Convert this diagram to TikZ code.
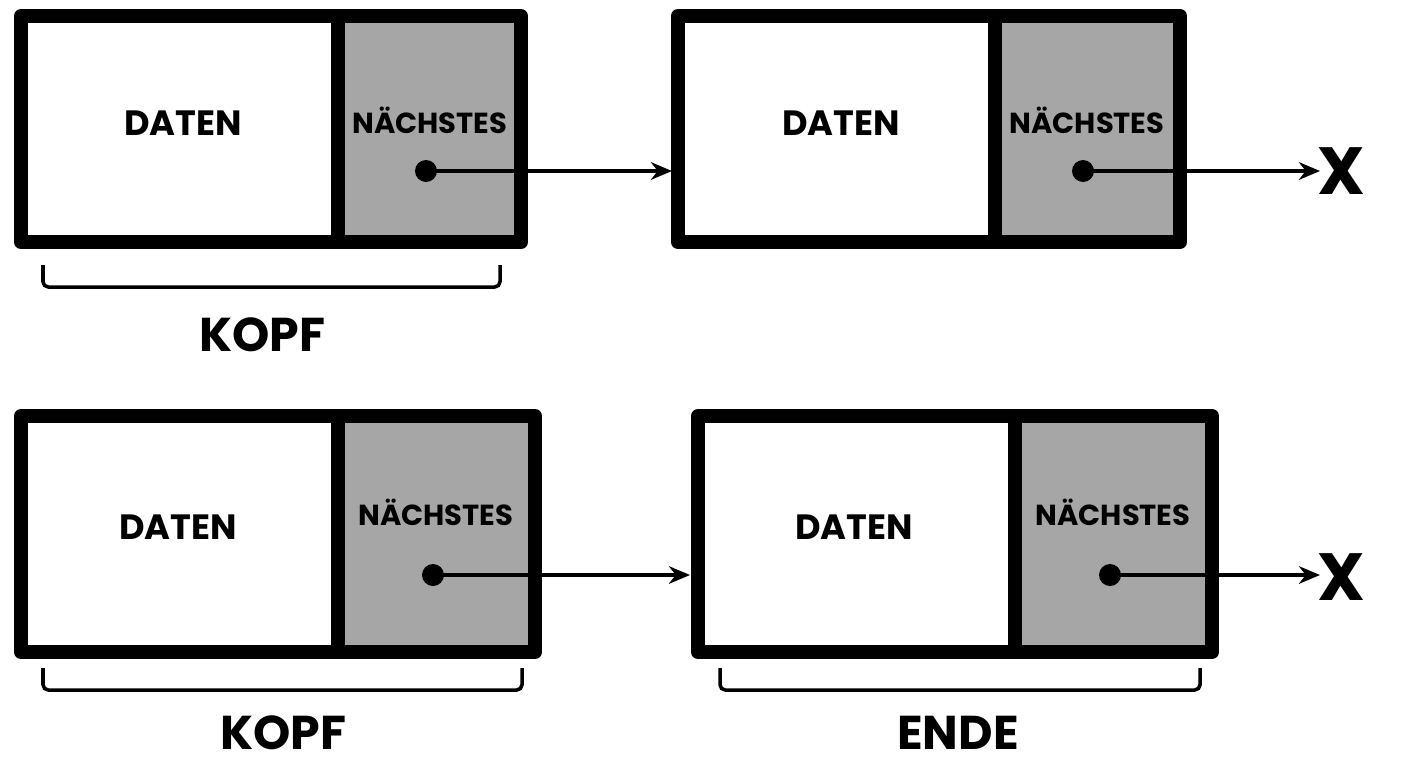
\documentclass[tikz,border=0pt]{standalone}
\usepackage{fontspec}
\setmainfont{Poppins}
\usetikzlibrary{arrows.meta}
\begin{document}
\begin{tikzpicture}[x=0.02cm,y=-0.02cm,
  box/.style={line width=8pt,line join=round},
  gray/.style={fill=black!35},
  lbl/.style={font=\bfseries\fontsize{20}{22}\selectfont},
  nx/.style={font=\bfseries\fontsize{16.5}{18}\selectfont},
  big/.style={font=\bfseries\fontsize{27}{29}\selectfont},
  xx/.style={font=\bfseries\fontsize{38}{40}\selectfont},
  arr/.style={line width=2.2pt,-{Stealth[length=12pt,width=10pt]}},
  dot/.style={circle,fill=black,inner sep=0pt,minimum size=0.44cm},
  br/.style={line width=2pt,rounded corners=3pt}]
\useasboundingbox (0,0) rectangle (1408,768);
% top row
\fill[gray] (338,16) rectangle (521,242);
\draw[box] (21,16) rectangle (521,242) (338,16) -- (338,242);
\fill[gray] (995,16) rectangle (1180,242);
\draw[box] (678,16) rectangle (1180,242) (995,16) -- (995,242);
\node[lbl] (d1) at (183,123) {DATEN};
\node[nx] (n1) at (430,120) {NÄCHSTES};
\node[lbl] (d2) at (841,123) {DATEN};
\node[nx] (n2) at (1087,120) {NÄCHSTES};
\node[dot] (p1) at (426,171) {};
\coordinate (t1) at (672,171);
\draw[arr] (p1.center) -- (t1);
\node[dot] (p2) at (1083,171) {};
\node[xx] (x1) at (1341,171) {X};
\coordinate (t2) at (1320,171);
\draw[arr] (p2.center) -- (t2);
\draw[br] (43,265) -- (43,287) -- (500,287) -- (500,265);
\node[big] (k1) at (262,335) {KOPF};
% bottom row
\fill[gray] (338,416) rectangle (535,652);
\draw[box] (21,416) rectangle (535,652) (338,416) -- (338,652);
\fill[gray] (1015,416) rectangle (1212,652);
\draw[box] (698,416) rectangle (1212,652) (1015,416) -- (1015,652);
\node[lbl] (d3) at (178,527) {DATEN};
\node[nx] (n3) at (436,512) {NÄCHSTES};
\node[lbl] (d4) at (854,527) {DATEN};
\node[nx] (n4) at (1113,512) {NÄCHSTES};
\node[dot] (p3) at (433,575) {};
\coordinate (t3) at (690,575);
\draw[arr] (p3.center) -- (t3);
\node[dot] (p4) at (1110,575) {};
\node[xx] (x2) at (1341,577) {X};
\coordinate (t4) at (1320,575);
\draw[arr] (p4.center) -- (t4);
\draw[br] (43,668) -- (43,690) -- (522,690) -- (522,668);
\node[big] (k2) at (283,733) {KOPF};
\draw[br] (720,668) -- (720,690) -- (1200,690) -- (1200,668);
\node[big] (e) at (958,733) {ENDE};
\end{tikzpicture}
\end{document}
